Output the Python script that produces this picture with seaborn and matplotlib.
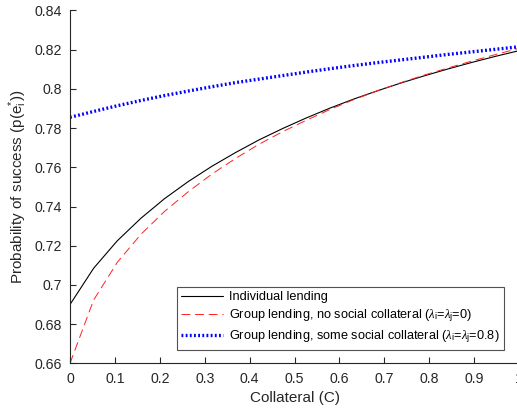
import numpy as np
import pandas as pd
import matplotlib
matplotlib.use("Agg")
import matplotlib.pyplot as plt
import seaborn as sns

# Collateral grid (20 evaluation points between 0 and 1)
collateral = [i / 19 for i in range(20)]

individual = [0.6900, 0.7085, 0.7225, 0.7340, 0.7440, 0.7527, 0.7605, 0.7675,
              0.7740, 0.7798, 0.7852, 0.7902, 0.7948, 0.7990, 0.8030, 0.8067,
              0.8102, 0.8135, 0.8166, 0.8195]
group_no_social = [0.6600, 0.6923, 0.7115, 0.7258, 0.7375, 0.7475, 0.7565, 0.7645,
                   0.7718, 0.7782, 0.7840, 0.7895, 0.7945, 0.7990, 0.8032, 0.8071,
                   0.8107, 0.8142, 0.8175, 0.8207]
group_social = [0.7855, 0.7885, 0.7914, 0.7941, 0.7966, 0.7989, 0.8011, 0.8032,
                0.8050, 0.8068, 0.8086, 0.8103, 0.8119, 0.8134, 0.8148, 0.8162,
                0.8176, 0.8189, 0.8202, 0.8215]

labels = [
    "Individual lending",
    r"Group lending, no social collateral ($\lambda_{\rm i}$=$\lambda_{\rm j}$=0)",
    r"Group lending, some social collateral ($\lambda_{\rm i}$=$\lambda_{\rm j}$=0.8)",
]
x_ticks = [0, 0.1, 0.2, 0.3, 0.4, 0.5, 0.6, 0.7, 0.8, 0.9, 1]
x_tick_labels = ["0", "0.1", "0.2", "0.3", "0.4", "0.5", "0.6", "0.7", "0.8", "0.9", "1"]
y_ticks = [0.66, 0.68, 0.70, 0.72, 0.74, 0.76, 0.78, 0.80, 0.82, 0.84]
y_tick_labels = ["0.66", "0.68", "0.7", "0.72", "0.74", "0.76", "0.78", "0.8", "0.82", "0.84"]

sns.set_theme(style="ticks")
plt.rcParams["font.family"] = ["Liberation Sans", "DejaVu Sans"]
plt.rcParams["mathtext.fontset"] = "custom"
plt.rcParams["mathtext.rm"] = "Liberation Sans"
plt.rcParams["mathtext.it"] = "Liberation Serif:italic"
plt.rcParams["mathtext.sf"] = "Liberation Sans"

text_color = "#262626"

fig = plt.figure(figsize=(5.17, 4.13), dpi=100)
ax = fig.add_axes([0.1354, 0.1203, 0.8686, 0.8543])

df = pd.DataFrame({"C": collateral})
styles = [
    dict(y=individual, color="black", lw=0.8, ls="-"),
    dict(y=group_no_social, color="#ff2020", lw=0.7, ls=(0, (9, 5))),
    dict(y=group_social, color="#0000ff", lw=2.4, ls=(0, (0.55, 0.7))),
]
for lab, st in zip(labels, styles):
    d = df.assign(p=st["y"])
    sns.lineplot(data=d, x="C", y="p", ax=ax, color=st["color"],
                 linewidth=st["lw"], linestyle=st["ls"], label=lab)

ax.set_xlim(0, 1)
ax.set_ylim(0.66, 0.84)
ax.set_xticks(x_ticks)
ax.set_xticklabels(x_tick_labels)
ax.set_yticks(y_ticks)
ax.set_yticklabels(y_tick_labels)
ax.tick_params(direction="in", length=4, width=0.8, colors=text_color,
               labelsize=10.2, pad=6)
for side in ("top", "right"):
    ax.spines[side].set_visible(False)
for side in ("left", "bottom"):
    ax.spines[side].set_color(text_color)
    ax.spines[side].set_linewidth(0.8)

ax.set_xlabel("Collateral (C)", fontsize=11, color=text_color, labelpad=4)
ax.set_ylabel(r"Probability of success (p(e$_{\rm i}^{*}$))", fontsize=11,
              color=text_color, labelpad=4)

leg = ax.legend(loc="lower right", bbox_to_anchor=(0.967, 0.038), fontsize=9.2,
                frameon=True, fancybox=False, edgecolor=text_color,
                handlelength=3.3, handletextpad=0.45, borderpad=0.35,
                labelspacing=0.35, borderaxespad=0)
leg.get_frame().set_linewidth(0.8)
for t in leg.get_texts():
    t.set_color("black")

fig.savefig("out.png", dpi=100)
